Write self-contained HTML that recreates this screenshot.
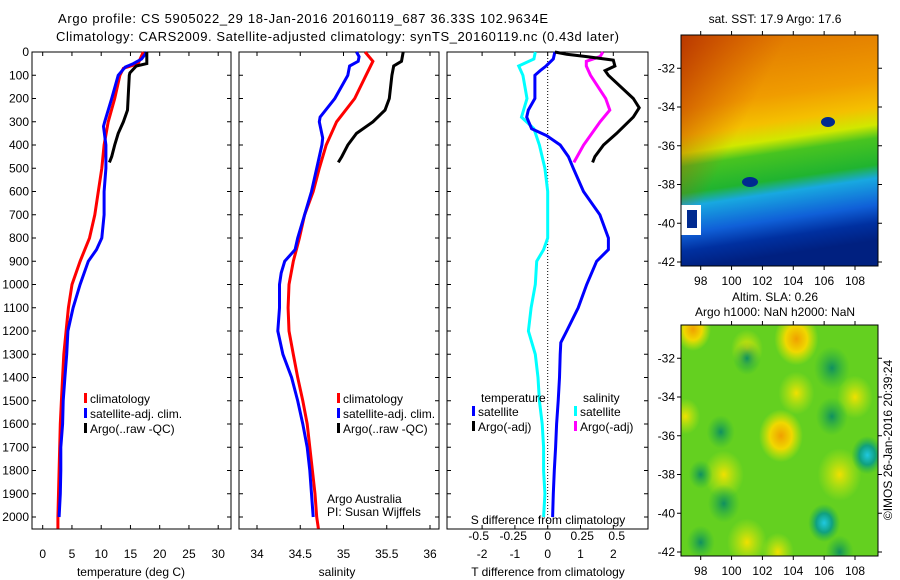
<!DOCTYPE html>
<html><head><meta charset="utf-8"><style>
body{margin:0;background:#fff;}
svg{display:block;font-family:"Liberation Sans",sans-serif;}
text{font-size:12px;fill:#000;}
</style></head><body>
<svg id="fig" width="900" height="580" viewBox="0 0 900 580" xmlns="http://www.w3.org/2000/svg">
<defs>
<linearGradient id="sstGrad" x1="0" y1="0.05" x2="0.12" y2="1">
<stop offset="0" stop-color="#e07800"/><stop offset="0.28" stop-color="#f09c00"/><stop offset="0.4" stop-color="#f4c000"/><stop offset="0.48" stop-color="#d0e800"/><stop offset="0.54" stop-color="#48c420"/><stop offset="0.66" stop-color="#20b430"/><stop offset="0.72" stop-color="#18a8e0"/><stop offset="0.84" stop-color="#1060d8"/><stop offset="0.92" stop-color="#0030a0"/><stop offset="1" stop-color="#002080"/>
</linearGradient>
<linearGradient id="sstRed" x1="0" y1="0" x2="1" y2="0.6">
<stop offset="0" stop-color="#b02800" stop-opacity="0.8"/><stop offset="0.4" stop-color="#c84000" stop-opacity="0"/>
</linearGradient>
<radialGradient id="gY"><stop offset="0" stop-color="#f0e000"/><stop offset="1" stop-color="#c8ec10" stop-opacity="0"/></radialGradient>
<radialGradient id="gO"><stop offset="0" stop-color="#f0a000"/><stop offset="0.5" stop-color="#f0d800"/><stop offset="1" stop-color="#d8ec00" stop-opacity="0"/></radialGradient>
<radialGradient id="gT"><stop offset="0" stop-color="#109060"/><stop offset="1" stop-color="#20b040" stop-opacity="0"/></radialGradient>
<radialGradient id="gC"><stop offset="0" stop-color="#20c8e0"/><stop offset="0.5" stop-color="#10a080"/><stop offset="1" stop-color="#20b040" stop-opacity="0"/></radialGradient>
<clipPath id="clipTop"><rect x="681" y="35" width="197" height="231"/></clipPath>
<clipPath id="clipBot"><rect x="681" y="325" width="197" height="231"/></clipPath>
</defs>
<text x="58" y="23" textLength="490" style="font-size:13px">Argo profile: CS 5905022_29 18-Jan-2016 20160119_687 36.33S 102.9634E</text>
<text x="56" y="41" textLength="563" style="font-size:13px">Climatology: CARS2009. Satellite-adjusted climatology: synTS_20160119.nc (0.43d later)</text>
<g id="g"></g>
</svg>
<script>
// ---- data (depth in m) ----
const tClimDepth=[0,50,70,100,200,300,400,500,600,700,800,900,1000,1100,1200,1300,1400,1500,1600,1700,1800,1900,2000,2050];
const tClim=[17.2,16.3,13.8,13.2,12.3,11.2,10.5,10.1,9.5,8.9,8.0,6.4,5.0,4.4,4.0,3.6,3.4,3.2,3.0,2.9,2.8,2.7,2.6,2.6];
const tSatDepth=[0,30,50,65,100,200,300,320,400,500,600,700,800,850,900,1000,1100,1200,1300,1400,1500,1600,1700,1800,1900,2000];
const tSat=[17.8,16.9,15.5,14.1,12.9,11.8,10.6,10.4,10.8,10.8,10.5,10.5,10.1,9.2,7.8,6.4,5.2,4.3,4.1,3.8,3.5,3.4,3.1,3.1,3.0,2.8];
const tArgoDepth=[0,50,60,90,100,200,250,300,350,400,450,475];
const tArgo=[17.8,17.8,16.0,14.9,14.8,14.6,14.5,13.8,12.9,12.3,11.8,11.4];
const sClimDepth=[0,40,100,200,300,400,500,600,700,800,900,1000,1100,1200,1300,1400,1500,1600,1700,1800,1900,2000,2050];
const sClim=[35.25,35.34,35.26,35.13,34.92,34.80,34.72,34.65,34.55,34.49,34.42,34.37,34.36,34.37,34.42,34.47,34.53,34.58,34.61,34.64,34.67,34.69,34.71];
const sSatDepth=[0,20,40,60,100,200,280,300,370,400,500,600,700,800,850,900,950,1000,1100,1200,1300,1400,1500,1600,1700,1800,1900,2000];
const sSat=[35.15,35.18,35.17,35.07,35.05,34.90,34.73,34.72,34.76,34.75,34.69,34.63,34.55,34.47,34.44,34.32,34.28,34.26,34.26,34.24,34.30,34.40,34.47,34.53,34.58,34.61,34.63,34.65];
const sArgoDepth=[0,40,60,100,200,250,300,350,400,450,475];
const sArgo=[35.69,35.67,35.58,35.56,35.53,35.48,35.34,35.15,35.05,34.98,34.94];
const dtSatDepth=[0,30,60,80,100,200,250,280,330,360,400,450,500,600,700,800,850,900,1000,1100,1200,1250,1300,1400,1500,1600,1700,1800,1900,2000];
const dtSat=[0.22,0.17,-0.05,-0.23,-0.39,-0.39,-0.59,-0.64,-0.49,-0.03,0.38,0.63,0.78,1.09,1.59,1.85,1.85,1.49,1.19,0.93,0.58,0.40,0.38,0.36,0.32,0.27,0.24,0.20,0.17,0.15];
const dsSatDepth=[0,30,60,100,200,280,330,400,500,600,800,850,900,1000,1100,1200,1300,1400,1500,1600,1700,1800,1900,2000];
const dsSat=[-0.09,-0.10,-0.21,-0.18,-0.15,-0.19,-0.10,-0.06,-0.02,0,0,-0.03,-0.08,-0.09,-0.12,-0.14,-0.09,-0.07,-0.06,-0.04,-0.03,-0.03,-0.02,-0.03];
const dtArgoDepth=[0,10,20,35,60,80,100,200,240,280,350,400,450,475];
const dtArgo=[0.22,0.58,1.19,2.0,2.05,1.75,1.85,2.61,2.79,2.61,2.10,1.70,1.44,1.37];
const dsArgoDepth=[0,20,40,60,100,200,250,300,400,475];
const dsArgo=[0.40,0.38,0.28,0.28,0.31,0.42,0.45,0.38,0.26,0.19];
const depthTicks=[0,100,200,300,400,500,600,700,800,900,1000,1100,1200,1300,1400,1500,1600,1700,1800,1900,2000];
const tTicks=[0,5,10,15,20,25,30];
const sTicks=[34,34.5,35,35.5,36];
const sTickLabels=["34","34.5","35","35.5","36"];
const dtTicks=[-2,-1,0,1,2];
const dsTicks=[-0.5,-0.25,0,0.25,0.5];
const dsTickLabels=["-0.5","-0.25","0","0.25","0.5"];
const lonTicks=[98,100,102,104,106,108];
const latTicks=[-32,-34,-36,-38,-40,-42];

// ---- scales ----
const Y=d=>52+d*0.2325;
const xT=v=>42.7+5.85*v;
const xS=v=>257+86.5*(v-34);
const xDT=v=>547.7+32.8*v;
const xDS=v=>547.7+138*v;
const lonX=l=>700.7+(l-98)*15.43;
const latY=(l,off)=>68.3+(-32-l)*19.37+off;

const NS="http://www.w3.org/2000/svg";
const G=document.getElementById('g');
function mk(tag,attrs,parent){const e=document.createElementNS(NS,tag);for(const k in attrs)e.setAttribute(k,attrs[k]);(parent||G).appendChild(e);return e;}
function txt(x,y,s,anchor,size){const t=mk('text',{x:x,y:y,'text-anchor':anchor||'start'});if(size)t.style.fontSize=size+'px';t.textContent=s;return t;}

function panel(x0,x1,name){
  const r=mk('rect',{x:x0,y:52,width:x1-x0,height:477,fill:'none',stroke:'#000','stroke-width':1});
  
  
  depthTicks.forEach(d=>{
    const t=mk('path',{d:`M${x0},${Y(d)}h4M${x1},${Y(d)}h-4`,stroke:'#000'});
    
    
  });
}
function series(ds,vs,xf,color,w,name){
  const p=mk('polyline',{points:ds.map((d,i)=>xf(vs[i]).toFixed(1)+','+Y(d).toFixed(1)).join(' '),fill:'none',stroke:color,'stroke-width':w,'stroke-linejoin':'miter'});
  
  
}
function legend(x,y,color,label,name){
  const m=mk('rect',{x:x,y:y-10,width:3,height:10,fill:color});
  
  
  const t=txt(x+6,y,label);
  
  
}

// Panel 1 temperature
panel(32,231,'temperature-panel');
depthTicks.forEach(d=>{const t=txt(29,Y(d)+4,String(d),'end');
  
  });
tTicks.forEach(v=>{mk('path',{d:`M${xT(v)},529v-4M${xT(v)},52v4`,stroke:'#000'});
  const t=txt(xT(v),558,String(v),'middle');
  
  });
const tt=txt(131,576,'temperature (deg C)','middle');


series(tClimDepth,tClim,xT,'#ff0000',3,'temp-climatology-line');
series(tSatDepth,tSat,xT,'#0000ff',3,'temp-satellite-adj-line');
series(tArgoDepth,tArgo,xT,'#000000',3,'temp-argo-line');
legend(84,403,'#ff0000','climatology','legend-climatology');
legend(84,418,'#0000ff','satellite-adj. clim.','legend-satellite-adj');
legend(84,433,'#000000','Argo(..raw -QC)','legend-argo');

// Panel 2 salinity
panel(239,439,'salinity-panel');
sTicks.forEach((v,i)=>{mk('path',{d:`M${xS(v)},529v-4M${xS(v)},52v4`,stroke:'#000'});
  const t=txt(xS(v),558,sTickLabels[i],'middle');
  
  });
const st=txt(337,576,'salinity','middle');


series(sClimDepth,sClim,xS,'#ff0000',3,'sal-climatology-line');
series(sSatDepth,sSat,xS,'#0000ff',3,'sal-satellite-adj-line');
series(sArgoDepth,sArgo,xS,'#000000',3,'sal-argo-line');
legend(337,403,'#ff0000','climatology','legend2-climatology');
legend(337,418,'#0000ff','satellite-adj. clim.','legend2-satellite-adj');
legend(337,433,'#000000','Argo(..raw -QC)','legend2-argo');
const a1=txt(327,503,'Argo Australia');
const a2=txt(327,516,'PI: Susan Wijffels');

// Panel 3 differences
panel(447,648,'difference-panel');
const zl=mk('line',{x1:xDT(0),x2:xDT(0),y1:52,y2:529,stroke:'#000','stroke-dasharray':'1,2'});


dtTicks.forEach(v=>{mk('path',{d:`M${xDT(v)},529v-4M${xDT(v)},52v4`,stroke:'#000'});
  const t=txt(xDT(v),558,String(v),'middle');
  
  });
dsTicks.forEach((v,i)=>{const t=txt(xDS(v),540,dsTickLabels[i],'middle');
  
  });
const dst=txt(548,524,'S difference from climatology','middle');


const dtt=txt(548,576,'T difference from climatology','middle');


series(dsSatDepth,dsSat,xDS,'#00ffff',3,'s-diff-satellite-line');
series(dtSatDepth,dtSat,xDT,'#0000ff',3,'t-diff-satellite-line');
series(dsArgoDepth,dsArgo,xDS,'#ff00ff',3,'s-diff-argo-line');
series(dtArgoDepth,dtArgo,xDT,'#000000',3,'t-diff-argo-line');
const lt=txt(481,402,'temperature');
const ls=txt(583,402,'salinity');
legend(472,416,'#0000ff','satellite','legend3-t-satellite');
legend(472,431,'#000000','Argo(-adj)','legend3-t-argo');
legend(574,416,'#00ffff','satellite','legend3-s-satellite');
legend(574,431,'#ff00ff','Argo(-adj)','legend3-s-argo');

// Maps
function mapAxes(off,name){
  const r=mk('rect',{x:681,y:35+off,width:197,height:231,fill:'none',stroke:'#000'});
  
  
  lonTicks.forEach(l=>{mk('path',{d:`M${lonX(l)},${35+off}v-4M${lonX(l)},${266+off}v4`,stroke:'#000'});
    const t=txt(lonX(l),off+285,String(l),'middle');
    
    });
  latTicks.forEach(l=>{mk('path',{d:`M681,${latY(l,off)}h-4M878,${latY(l,off)}h4`,stroke:'#000'});
    const t=txt(675,latY(l,off)+4,String(l),'end');
    
    });
}
// SST map
const gt=mk('g',{'clip-path':'url(#clipTop)'});


mk('rect',{x:681,y:35,width:197,height:231,fill:'url(#sstGrad)'},gt);
mk('rect',{x:681,y:35,width:197,height:231,fill:'url(#sstRed)'},gt);
mk('ellipse',{cx:828,cy:122,rx:7,ry:5,fill:'#002a90'},gt);
mk('ellipse',{cx:750,cy:182,rx:8,ry:5,fill:'#002a90'},gt);
mk('rect',{x:681,y:205,width:20,height:30,fill:'#fff'},gt);
mk('rect',{x:687,y:210,width:10,height:18,fill:'#002a90'},gt);
mapAxes(0,'sst-map');
const t1=txt(775,23,'sat. SST: 17.9 Argo: 17.6','middle');

// SLA map
const gb=mk('g',{'clip-path':'url(#clipBot)'});


mk('rect',{x:681,y:325,width:197,height:231,fill:'#64d020'},gb);
[[104.2,-31,'gO',22],[97.5,-30.5,'gO',18],[104.2,-33.8,'gY',18],[103.2,-36,'gO',22],[99.5,-38,'gY',20],[101,-31.5,'gY',16],[107,-38,'gY',22],[101,-41.5,'gY',20],[108,-34,'gY',18],[97,-35,'gY',15],[103,-42,'gY',16],
 [106.5,-32.5,'gT',18],[106.5,-35,'gT',16],[108.8,-37,'gC',16],[106,-40.5,'gC',16],[99.5,-39.5,'gT',16],[99.3,-35.8,'gT',14],[98,-41.5,'gT',14],[98,-38,'gT',12],[101,-32,'gT',14],[107,-42,'gT',14]]
.forEach(b=>{mk('ellipse',{cx:lonX(b[0]),cy:latY(b[1],290),rx:b[3],ry:b[3]*1.2,fill:`url(#${b[2]})`},gb);});
mapAxes(290,'sla-map');
const t2=txt(775,301,'Altim. SLA: 0.26','middle');

const t3=txt(775,316,'Argo h1000: NaN h2000: NaN','middle');

const cr=txt(0,0,'©IMOS 26-Jan-2016 20:39:24','middle');
cr.setAttribute('transform','translate(892,440) rotate(-90)');


</script>
</body></html>
